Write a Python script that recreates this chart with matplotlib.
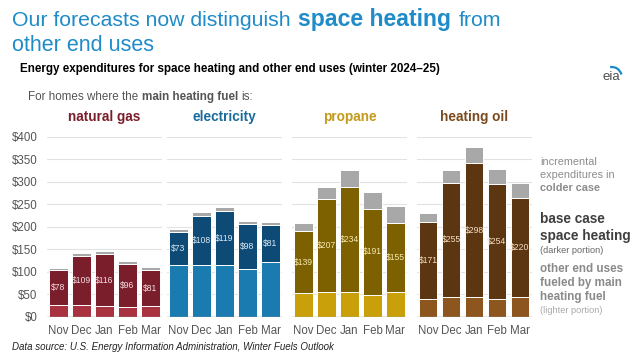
import matplotlib.pyplot as plt
from matplotlib.patches import Arc

plt.rcParams['font.family'] = ['Liberation Sans', 'DejaVu Sans']

W, H = 636, 352

months = ['Nov', 'Dec', 'Jan', 'Feb', 'Mar']
fuels = ['natural gas', 'electricity', 'propane', 'heating oil']

ng_other = [25, 25, 23, 22, 23]
ng_heat = [78, 109, 116, 96, 81]
ng_incr = [6, 7, 7, 6, 7]

elec_other = [115, 115, 115, 107, 122]
elec_heat = [73, 108, 119, 98, 81]
elec_incr = [7, 9, 10, 8, 7]

prop_other = [52, 54, 54, 49, 54]
prop_heat = [139, 207, 234, 191, 155]
prop_incr = [17, 28, 37, 38, 38]

oil_other = [40, 43, 43, 40, 43]
oil_heat = [171, 255, 298, 254, 220]
oil_incr = [19, 29, 36, 35, 35]

other = [ng_other, elec_other, prop_other, oil_other]
heat = [ng_heat, elec_heat, prop_heat, oil_heat]
incr = [ng_incr, elec_incr, prop_incr, oil_incr]

# colours per fuel: light (other uses), dark (space heating), title, value label
light_c = ['#a8323f', '#1a7bb0', '#c9a00a', '#8e561f']
dark_c = ['#7b1e2b', '#0d4a75', '#7d6000', '#5c3511']
title_c = ['#7b1e2b', '#1a6b9a', '#c49a1b', '#7a4a1e']
lab_c = ['#f3dfe0', '#dcecf6', '#f6e8b0', '#f6dfc6']
gray_c = '#a8a8a8'

fig = plt.figure(figsize=(W / 100, H / 100), dpi=100)


def px(x, y):
    return x / W, 1 - y / H


def rich(x, y, parts, color, gap):
    # draw text pieces one after another on the same baseline
    r = fig.canvas.get_renderer()
    for s, w, size in parts:
        t = fig.text(*px(x, y), s, fontsize=size, color=color, weight=w,
                     va='baseline', ha='left')
        bb = t.get_window_extent(r)
        x += bb.width + gap


# title
rich(11.5, 25.7, [('Our forecasts now distinguish', 'normal', 15.3),
                  ('space heating', 'bold', 16.6), ('from', 'normal', 15.3)],
     '#1f8bc8', 8)
fig.text(*px(11.5, 50.7), 'other end uses', fontsize=15.5, color='#1f8bc8',
         va='baseline')
fig.text(*px(20, 72), 'Energy expenditures for space heating and other end uses (winter 2024\u201325)',
         fontsize=8.4, weight='bold', color='black', va='baseline')
rich(28.3, 100, [('For homes where the', 'normal', 8.4), ('main heating fuel', 'bold', 8.4),
                 ('is:', 'normal', 8.4)], '#555555', 3)

# eia logo
fig.text(*px(611, 80), 'eia', fontsize=9.5, color='#4d4d4d', va='baseline',
         ha='center')
logo = fig.add_axes([600 / W, 1 - 84 / H, 24 / W, 20 / H])
logo.set_xlim(0, 24)
logo.set_ylim(0, 20)
logo.axis('off')
logo.add_patch(Arc((12, 6), 20, 22, theta1=20, theta2=100, color='#1a8bd0', lw=1.6))

lefts = [47, 167, 292, 416.5]
for g in range(4):
    ax = fig.add_axes([lefts[g] / W, (H - 316.7) / H, 115 / W, 180 / H])
    x = range(len(months))
    ax.bar(x, other[g], width=0.81, color=light_c[g], edgecolor='white', lw=0.7, zorder=3)
    ax.bar(x, heat[g], bottom=other[g], width=0.81, color=dark_c[g],
           edgecolor='white', lw=0.7, zorder=3)
    top = [a + b for a, b in zip(other[g], heat[g])]
    ax.bar(x, incr[g], bottom=top, width=0.81, color=gray_c, edgecolor='white', lw=0.7, zorder=3)
    for i in x:
        ax.text(i, other[g][i] + heat[g][i] / 2, '$%d' % heat[g][i], ha='center',
                va='center', fontsize=6.2, color=lab_c[g], zorder=4)
    ax.set_xlim(-0.5, 4.5)
    ax.set_ylim(0, 400)
    ax.set_yticks(range(0, 401, 50))
    ax.set_yticklabels(['$%d' % v for v in range(0, 401, 50)])
    ax.set_xticks(list(x))
    ax.set_xticklabels(months)
    ax.grid(axis='y', color='#e2e2e2', lw=0.8, zorder=0)
    ax.axhline(0, color='#a0a0a0', lw=1, zorder=5)
    for s in ax.spines.values():
        s.set_visible(False)
    ax.tick_params(length=0, labelsize=8.3, colors='#555555', pad=6)
    ax.tick_params(axis='y', pad=7)
    if g > 0:
        ax.tick_params(labelleft=False)
    fig.text(*px(lefts[g] + 57.5, 117), fuels[g], fontsize=9.8, weight='bold',
             color=title_c[g], ha='center', va='center')

# right-hand key
rx = 540
for i, s in enumerate(['incremental', 'expenditures in']):
    fig.text(*px(rx, 165 + 13 * i), s, fontsize=7.8, color='#8c8c8c', va='baseline')
fig.text(*px(rx, 191), 'colder case', fontsize=7.8, weight='bold', color='#8c8c8c',
         va='baseline')
fig.text(*px(rx, 223), 'base case', fontsize=9.8, weight='bold', color='#3f3f3f', va='baseline')
fig.text(*px(rx, 240), 'space heating', fontsize=9.8, weight='bold', color='#3f3f3f', va='baseline')
fig.text(*px(rx, 253), '(darker portion)', fontsize=6.6, color='#666666', va='baseline')
for i, s in enumerate(['other end uses', 'fueled by main', 'heating fuel']):
    fig.text(*px(rx, 272 + 14 * i), s, fontsize=8.4, weight='bold', color='#8a8a8a',
             va='baseline')
fig.text(*px(rx, 313), '(lighter portion)', fontsize=6.6, color='#a8a8a8', va='baseline')

fig.text(*px(12, 350), 'Data source: U.S. Energy Information Administration, Winter Fuels Outlook',
         fontsize=7, style='italic', color='#222222', va='baseline')

fig.savefig('out.png', dpi=100)
